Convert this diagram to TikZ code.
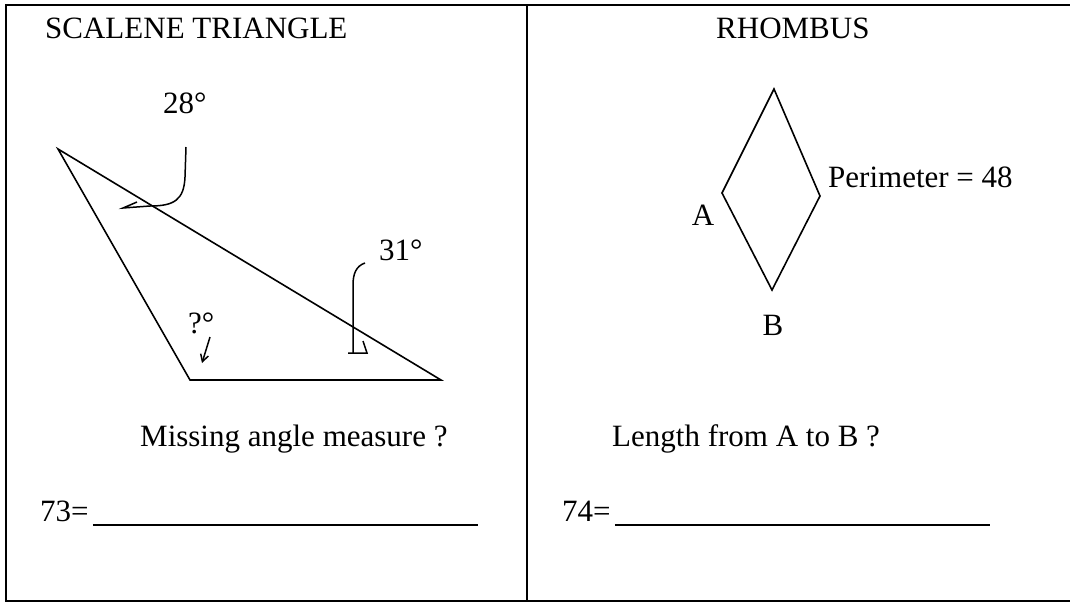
\documentclass[tikz,border=0pt]{standalone}
\usepackage{fontspec}
\setmainfont{Liberation Serif}
\usetikzlibrary{arrows.meta}
\begin{document}
\begin{tikzpicture}[x=1pt, y=-1pt, >={Straight Barb[length=7pt,width=8pt]},
  every node/.style={font=\fontsize{31}{36}\selectfont, inner sep=0pt, anchor=base west}]
\useasboundingbox (0,0) rectangle (1070,603);
% frame and divider
\draw[line width=1.8pt] (1070,5) -- (6,5) -- (6,601) -- (1070,601);
\draw[line width=1.5pt] (527,5) -- (527,601);
% left cell: triangle
\node (titletri) at (45,38) {SCALENE TRIANGLE};
\coordinate (ta) at (58,149);
\coordinate (tb) at (190,380);
\coordinate (tc) at (441,380);
\draw[line width=1.6pt] (ta) -- (tb) -- (tc) -- cycle;
\node (angA) at (163,113) {28°};
\node (angC) at (379,260) {31°};
\node (angB) at (188,333) {?°};
\coordinate (s28) at (186,147);
\coordinate (s31) at (365,263);
\coordinate (sq) at (210,337);
\coordinate (eq) at (202,363);
\draw[line width=1.5pt] (s28) -- (185,177) .. controls (184,200) and (174,206) .. (150,206) -- (123,208) -- (137,202);
\draw[line width=1.5pt] (s31) .. controls (356,266) and (353,274) .. (353,285) -- (353,353);
\draw[line width=1.5pt] (348,353) -- (367,353) -- (363,341);
\draw[->,line width=1.5pt] (sq) -- (eq);
\node (asktri) at (140,446) {Missing angle measure ?};
\node (num73) at (40,521) {73=};
\draw[line width=1.5pt] (num73.base east) ++(4,4) coordinate (u73) -- (478,525);
% right cell: rhombus
\node (titlerh) at (716,38) {RHOMBUS};
\coordinate (rt) at (774,89);
\coordinate (rr) at (820,196);
\coordinate (rb) at (772,290);
\coordinate (rl) at (722,193);
\draw[line width=1.6pt] (rt) -- (rr) -- (rb) -- (rl) -- cycle;
\node[anchor=center] (labA) at (703,215) {A};
\node[anchor=center] (labB) at (773,325) {B};
\node (perim) at (828,187) {Perimeter = 48};
\node (askrh) at (612,446) {Length from A to B ?};
\node (num74) at (562,521) {74=};
\draw[line width=1.5pt] (num74.base east) ++(4,4) coordinate (u74) -- (990,525);
\end{tikzpicture}
\end{document}
